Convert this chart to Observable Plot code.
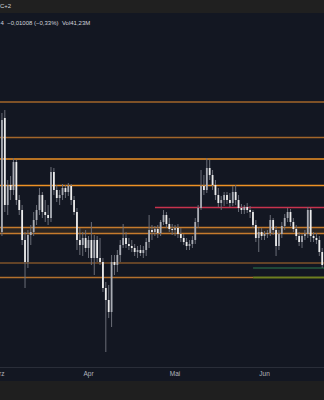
<!DOCTYPE html>
<html>
<head>
<meta charset="utf-8">
<script src="https://cdn.jsdelivr.net/npm/d3@7"></script>
<script src="https://cdn.jsdelivr.net/npm/@observablehq/plot@0.6"></script>
<style>
  html, body { margin: 0; padding: 0; background: #131722; width: 324px; height: 400px; overflow: hidden; font-family: "Liberation Sans", Arial, sans-serif; }
  #topbar { position: relative; height: 13px; background: #202020; overflow: hidden; }
  #topbar span { position: absolute; left: -8px; top: 3px; font-size: 6px; line-height: 7px; color: #d1d4dc; white-space: nowrap; }
  #bottombar { height: 19px; background: #1f1f1f; }
  #chart svg { display: block; }
</style>
</head>
<body>
<div id="topbar"><span>UTC+2</span></div>
<div id="chart"></div>
<div id="bottombar"></div>
<script>
// ---- data (daily candles, 1 Mar – 21 Jun) ----
const open = [3.32,3.35,4.49,3.62,3.82,3.77,4.05,3.67,3.57,3.27,3.05,3.32,3.35,3.47,3.57,3.72,3.55,3.52,3.49,3.95,
  3.77,3.69,3.72,3.79,3.75,3.81,3.67,3.55,3.27,3.22,3.29,3.19,3.27,3.09,3.27,3.09,3.05,2.79,2.67,2.55,
  3.05,3.02,3.12,3.22,3.29,3.23,3.21,3.19,3.15,3.17,3.14,3.17,3.25,3.37,3.35,3.38,3.34,3.45,3.52,3.43,
  3.38,3.37,3.39,3.33,3.29,3.25,3.21,3.23,3.27,3.45,3.59,3.81,3.77,3.99,3.92,3.82,3.72,3.64,3.67,3.72,
  3.67,3.64,3.75,3.67,3.59,3.57,3.60,3.57,3.55,3.42,3.29,3.35,3.31,3.33,3.34,3.47,3.37,3.21,3.33,3.41,
  3.49,3.55,3.45,3.38,3.31,3.25,3.31,3.33,3.57,3.31,3.29,3.27,3.15];
const high = [3.42,4.54,4.57,3.87,3.91,4.09,4.07,3.72,3.62,3.35,3.37,3.42,3.55,3.62,3.79,3.75,3.67,3.62,4.00,3.99,
  3.82,3.77,3.83,3.82,3.84,3.83,3.71,3.59,3.39,3.35,3.37,3.31,3.45,3.32,3.31,3.29,3.09,2.85,2.82,3.12,
  3.12,3.17,3.27,3.43,3.35,3.29,3.27,3.23,3.21,3.22,3.21,3.29,3.52,3.42,3.41,3.42,3.47,3.57,3.55,3.49,
  3.43,3.42,3.43,3.39,3.33,3.29,3.27,3.31,3.49,3.62,3.97,3.92,4.09,4.07,3.97,3.87,3.79,3.71,3.75,3.75,
  3.74,3.81,3.82,3.72,3.63,3.62,3.64,3.61,3.57,3.47,3.39,3.39,3.36,3.37,3.52,3.49,3.41,3.37,3.45,3.53,
  3.59,3.58,3.49,3.42,3.35,3.33,3.37,3.60,3.59,3.35,3.34,3.31,3.19];
const low = [3.27,3.31,3.55,3.52,3.67,3.72,3.62,3.52,3.22,2.79,2.99,3.22,3.31,3.42,3.52,3.49,3.45,3.42,3.45,3.72,
  3.65,3.62,3.67,3.69,3.71,3.62,3.52,3.17,3.12,3.11,3.15,3.09,3.02,2.92,3.05,3.02,2.75,2.15,2.49,2.40,
  2.92,2.95,3.05,3.19,3.19,3.17,3.15,3.11,3.09,3.11,3.09,3.11,3.19,3.27,3.31,3.29,3.31,3.42,3.39,3.35,
  3.32,3.31,3.29,3.25,3.22,3.17,3.17,3.19,3.23,3.39,3.57,3.72,3.74,3.87,3.77,3.67,3.60,3.57,3.61,3.63,
  3.60,3.61,3.62,3.55,3.53,3.53,3.54,3.49,3.39,3.25,3.15,3.27,3.27,3.29,3.31,3.32,3.11,3.17,3.29,3.37,
  3.45,3.41,3.35,3.27,3.21,3.19,3.27,3.29,3.25,3.25,3.23,3.11,2.99];
const close = [3.35,4.47,3.62,3.82,3.77,4.05,3.67,3.57,3.27,3.05,3.32,3.35,3.47,3.57,3.72,3.55,3.52,3.49,3.95,3.77,
  3.69,3.72,3.79,3.75,3.81,3.67,3.55,3.27,3.22,3.29,3.19,3.27,3.09,3.27,3.09,3.05,2.79,2.67,2.55,3.05,
  3.02,3.12,3.22,3.29,3.23,3.21,3.19,3.15,3.17,3.14,3.17,3.25,3.37,3.35,3.38,3.34,3.45,3.52,3.43,3.38,
  3.37,3.39,3.33,3.29,3.25,3.21,3.23,3.27,3.45,3.59,3.81,3.77,3.99,3.92,3.82,3.72,3.64,3.67,3.72,3.67,
  3.64,3.75,3.67,3.59,3.57,3.60,3.57,3.55,3.42,3.29,3.35,3.31,3.33,3.34,3.47,3.37,3.21,3.33,3.41,3.49,
  3.55,3.45,3.38,3.31,3.25,3.31,3.33,3.57,3.31,3.29,3.27,3.15,3.02];

// horizontal levels (price)
const orangeLevelsMajor = [4.085, 3.82];
const orangeLevelsMinor = [4.655, 4.30];
const zoneLow = 3.34;
const zoneHigh = 3.40;
const lowerLevel = 3.045;
const supportLevel = 2.90;
const redLevel = 3.60;
const greenLevel = 2.995;

const monthLabels = ["Mrz", "Apr", "Mai", "Jun"];
const legendText = "4\u00a0\u00a0\u22120,01008 (\u22120,33%)\u00a0\u00a0Vol41,23M";

// ---- build ----
const dates = d3.utcDay.range(new Date(Date.UTC(2025, 2, 1)), new Date(Date.UTC(2025, 5, 23)));
const candles = dates.map((date, i) => ({date, open: open[i], high: high[i], low: low[i], close: close[i]}));
const upCandles = candles.filter(d => d.close >= d.open);
const downCandles = candles.filter(d => d.close < d.open);
const monthTicks = d3.utcMonth.range(new Date(Date.UTC(2025, 2, 1)), new Date(Date.UTC(2025, 6, 1)));

const xDomain = [new Date(Date.UTC(2025, 2, 1, 12)), new Date(Date.UTC(2025, 5, 21, 19))];
const yDomain = [2.0, 5.54];
const redStart = new Date(Date.UTC(2025, 3, 24, 5));
const greenStart = new Date(Date.UTC(2025, 4, 28, 5));

const seg = (y, a, b) => [{y, a, b}];

const chart = Plot.plot({
  width: 324,
  height: 368,
  marginTop: 0,
  marginBottom: 14,
  marginLeft: 0,
  marginRight: 0,
  style: {background: "#131722", color: "#b2b5be", fontFamily: "'Liberation Sans', Arial, sans-serif"},
  x: {type: "utc", domain: xDomain},
  y: {domain: yDomain, axis: null},
  marks: [
    Plot.rect([{lo: zoneLow, hi: zoneHigh, a: xDomain[0], b: xDomain[1]}], {y1: "lo", y2: "hi", x1: "a", x2: "b", fill: "#e08a2a", fillOpacity: 0.12}),
    Plot.ruleY(orangeLevelsMinor, {stroke: "#a3662a", strokeWidth: 1.4}),
    Plot.ruleY(orangeLevelsMajor, {stroke: "#ef9225", strokeWidth: 1.6}),
    Plot.ruleY([zoneLow, zoneHigh], {stroke: "#c67b2d", strokeWidth: 1.5}),
    Plot.ruleY([lowerLevel], {stroke: "#b3702d", strokeWidth: 1.2}),
    Plot.ruleY(seg(supportLevel, xDomain[0], greenStart), {y: "y", x1: "a", x2: "b", stroke: "#b3702d", strokeWidth: 1.5}),
    Plot.ruleY(seg(supportLevel, greenStart, xDomain[1]), {y: "y", x1: "a", x2: "b", stroke: "#6f7f1f", strokeWidth: 2}),
    Plot.ruleY(seg(greenLevel, greenStart, xDomain[1]), {y: "y", x1: "a", x2: "b", stroke: "#2f7a4c", strokeWidth: 1.2}),
    Plot.ruleY(seg(redLevel, redStart, xDomain[1]), {y: "y", x1: "a", x2: "b", stroke: "#c8334e", strokeWidth: 1.5}),
    Plot.ruleX(candles, {x: "date", y1: "low", y2: "high", stroke: "#6b6e78", strokeWidth: 1}),
    Plot.ruleX(upCandles, {x: "date", y1: "open", y2: "close", stroke: "#a9acb4", strokeWidth: 1.8}),
    Plot.ruleX(downCandles, {x: "date", y1: "open", y2: "close", stroke: "#ececec", strokeWidth: 1.8}),
    Plot.ruleY([yDomain[0]], {stroke: "#2a2e39", strokeWidth: 1}),
    Plot.axisX(monthTicks, {tickSize: 0, tickPadding: 4, fontSize: 6.5, fill: "#b2b5be", tickFormat: d => monthLabels[d.getUTCMonth() - 2], label: null}),
    Plot.text([legendText], {frameAnchor: "top-left", textAnchor: "start", lineAnchor: "middle", dx: 0, dy: 10, fontSize: 6, fill: "#d1d4dc"})
  ]
});
document.getElementById("chart").appendChild(chart);
</script>
</body>
</html>
